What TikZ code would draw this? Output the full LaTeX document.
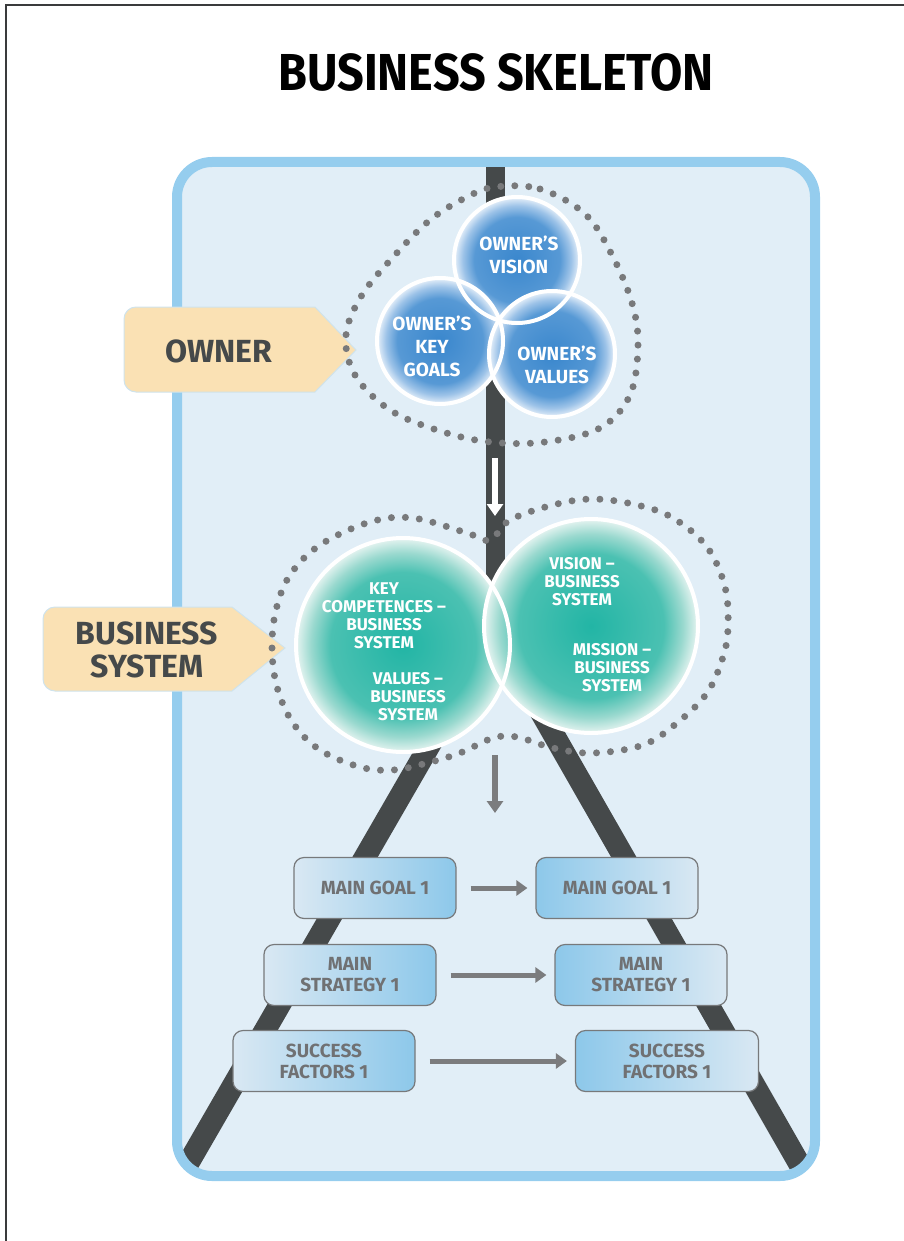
\documentclass[tikz,border=0pt]{standalone}
\usepackage{fontspec}
\setmainfont{Fira Sans}
\newfontfamily\titlefont{Fira Sans}[FakeStretch=0.9]
\usetikzlibrary{arrows.meta}

\definecolor{framegray}{HTML}{3A3B3C}
\definecolor{panelblue}{HTML}{95CDEE}
\definecolor{panelfill}{HTML}{E1EEF7}
\definecolor{roadgray}{HTML}{45494A}
\definecolor{dotgray}{HTML}{78797B}
\definecolor{tanfill}{HTML}{FAE1B4}
\definecolor{tanedge}{HTML}{CFE3EC}
\definecolor{boxedge}{HTML}{77797B}
\definecolor{boxtext}{HTML}{707173}
\definecolor{boxlight}{HTML}{D9E8F3}
\definecolor{boxblue}{HTML}{8DC8EA}
\definecolor{arrowgray}{HTML}{7B7C7E}
\definecolor{ownA}{HTML}{3A87CD}
\definecolor{ownB}{HTML}{5799D5}
\definecolor{ownC}{HTML}{9DC3E8}
\definecolor{ownD}{HTML}{E8F1FA}
\definecolor{sysA}{HTML}{22B5A5}
\definecolor{sysB}{HTML}{4BC1B2}
\definecolor{sysC}{HTML}{9AD9CF}
\definecolor{sysD}{HTML}{E6F4F1}

\pgfdeclareradialshading{ownshade}{\pgfpoint{0bp}{0bp}}{color(0bp)=(ownA); color(17bp)=(ownB); color(21.5bp)=(ownC); color(25bp)=(ownD); color(50bp)=(ownD)}
\pgfdeclareradialshading{sysshade}{\pgfpoint{0bp}{0bp}}{color(0bp)=(sysA); color(17bp)=(sysB); color(21.5bp)=(sysC); color(25bp)=(sysD); color(50bp)=(sysD)}

\begin{document}
\begin{tikzpicture}[x=1pt, y=-1pt,
    road/.style={roadgray, line width=20},
    dotline/.style={dotgray, line width=7, line cap=round, dash pattern=on 0pt off 14pt},
    tanbox/.style={fill=tanfill, draw=tanedge, line width=1},
    lbltext/.style={text=roadgray, align=center, font=\fontsize{32}{33}\selectfont\bfseries},
    ownball/.style={circle, inner sep=0, minimum size=126, shade, shading=ownshade},
    sysball/.style={circle, inner sep=0, minimum size=214, shade, shading=sysshade},
    ring/.style={white, line width=4},
    owntext/.style={text=white, align=center, font=\fontsize{19}{23}\selectfont\bfseries},
    systext/.style={text=white, align=center, font=\fontsize{17}{18}\selectfont\bfseries},
    boxbase/.style={draw=boxedge, line width=1.2, rounded corners=10, minimum height=61,
        inner sep=0, align=center, text=boxtext, font=\fontsize{19}{21}\selectfont\bfseries},
    boxL/.style={boxbase, left color=boxlight, right color=boxblue},
    boxR/.style={boxbase, left color=boxblue, right color=boxlight},
    flow/.style={arrowgray, line width=5, -{Triangle[width=15pt,length=11pt]},
        shorten <=14, shorten >=8},
]
    \useasboundingbox (0,0) rectangle (904,1241);

    % Frame and title
    \draw[framegray, line width=1.5] (6,1241) -- (6,5) -- (904,5);
    \node[font=\titlefont\fontsize{52}{52}\selectfont\bfseries] (title) at (496,72) {BUSINESS SKELETON};

    % Panel with the road
    \fill[panelfill, rounded corners=35] (177,162) rectangle (815,1176);
    \begin{scope}
        \clip[rounded corners=35] (177,162) rectangle (815,1176);
        \draw[road, line width=19] (495,150) -- (495,640);
        \draw[road, line width=22] (495,632) -- (167,1200);
        \draw[road, line width=22] (495,632) -- (820,1200);
    \end{scope}
    \draw[panelblue, line width=10, rounded corners=35] (177,162) rectangle (815,1176);

    % Labels
    \draw[tanbox] (315,307) -- (356,350) -- (315,392) [rounded corners=12]-- (124,392) -- (124,307) [sharp corners]-- cycle;
    \node[lbltext] (ownerlbl) at (219,351) {OWNER};
    \draw[tanbox] (232,607) -- (285,648) -- (232,691) [rounded corners=12]-- (43,691) -- (43,607) [sharp corners]-- cycle;
    \node[lbltext] (syslbl) at (147,650) {BUSINESS\\SYSTEM};

    % Dotted groups
    \draw[dotline] plot[smooth cycle, tension=0.6] coordinates {
        (495,187) (540,189) (585,214) (612,255) (632,303) (638,345) (630,395)
        (600,428) (545,442) (490,442) (440,431) (390,410) (355,375) (346,335)
        (362,295) (395,255) (430,220) (465,198)};
    \draw[dotline] plot[smooth cycle, tension=0.6] coordinates {
        (277,687) (272,648) (276,610) (290,575) (320,545) (370,522) (413,518)
        (467,533) (490,540) (510,520) (553,505) (593,499) (637,505) (673,518)
        (707,547) (725,587) (728,627) (723,657) (707,693) (677,723) (643,745)
        (593,753) (553,748) (517,737) (493,738) (460,753) (427,763) (393,770)
        (360,767) (320,750) (293,723)};

    % Owner
    \node[ownball] (vision) at (517,260) {};
    \node[ownball] (goals) at (440,341) {};
    \node[ownball] (values) at (552,354) {};
    \foreach \c in {vision,goals,values}
        \draw[ring] (\c.center) circle[radius=63];
    \node[owntext] (visiontxt) at (519,255) {OWNER’S\\VISION};
    \node[owntext] (goalstxt) at (432,346) {OWNER’S\\KEY\\GOALS};
    \node[owntext] (valuestxt) at (557,365) {OWNER’S\\VALUES};

    % Business system
    \node[sysball] (competences) at (403,645) {};
    \node[sysball] (sysvision) at (591,626) {};
    \foreach \c in {competences,sysvision}
        \draw[ring] (\c.center) circle[radius=107];
    \node[systext] (comptxt) at (384,616) {KEY\\COMPETENCES –\\BUSINESS\\SYSTEM};
    \node[systext] (valtxt) at (408,697) {VALUES –\\BUSINESS\\SYSTEM};
    \node[systext] (vistxt) at (582,582) {VISION –\\BUSINESS\\SYSTEM};
    \node[systext] (mistxt) at (612,668) {MISSION –\\BUSINESS\\SYSTEM};

    % Arrows down the road
    \coordinate (down1a) at (495,458);
    \coordinate (down1b) at (495,516);
    \draw[white, line width=6, -{Triangle[width=16pt,length=12pt]}] (down1a) -- (down1b);
    \coordinate (down2a) at (495,755);
    \coordinate (down2b) at (495,813);
    \draw[arrowgray, line width=6, -{Triangle[width=16pt,length=12pt]}] (down2a) -- (down2b);

    % Goals, strategies, success factors
    \node[boxL, minimum width=162] (goalL) at (375,888) {MAIN GOAL 1};
    \node[boxR, minimum width=162] (goalR) at (617,888) {MAIN GOAL 1};
    \node[boxL, minimum width=172] (stratL) at (350,975) {MAIN\\STRATEGY 1};
    \node[boxR, minimum width=172] (stratR) at (641,975) {MAIN\\STRATEGY 1};
    \node[boxL, minimum width=182] (succL) at (324,1061) {SUCCESS\\FACTORS 1};
    \node[boxR, minimum width=183] (succR) at (667,1061) {SUCCESS\\FACTORS 1};
    \draw[flow] (goalL) -- (goalR);
    \draw[flow] (stratL) -- (stratR);
    \draw[flow] (succL) -- (succR);

\end{tikzpicture}
\end{document}
